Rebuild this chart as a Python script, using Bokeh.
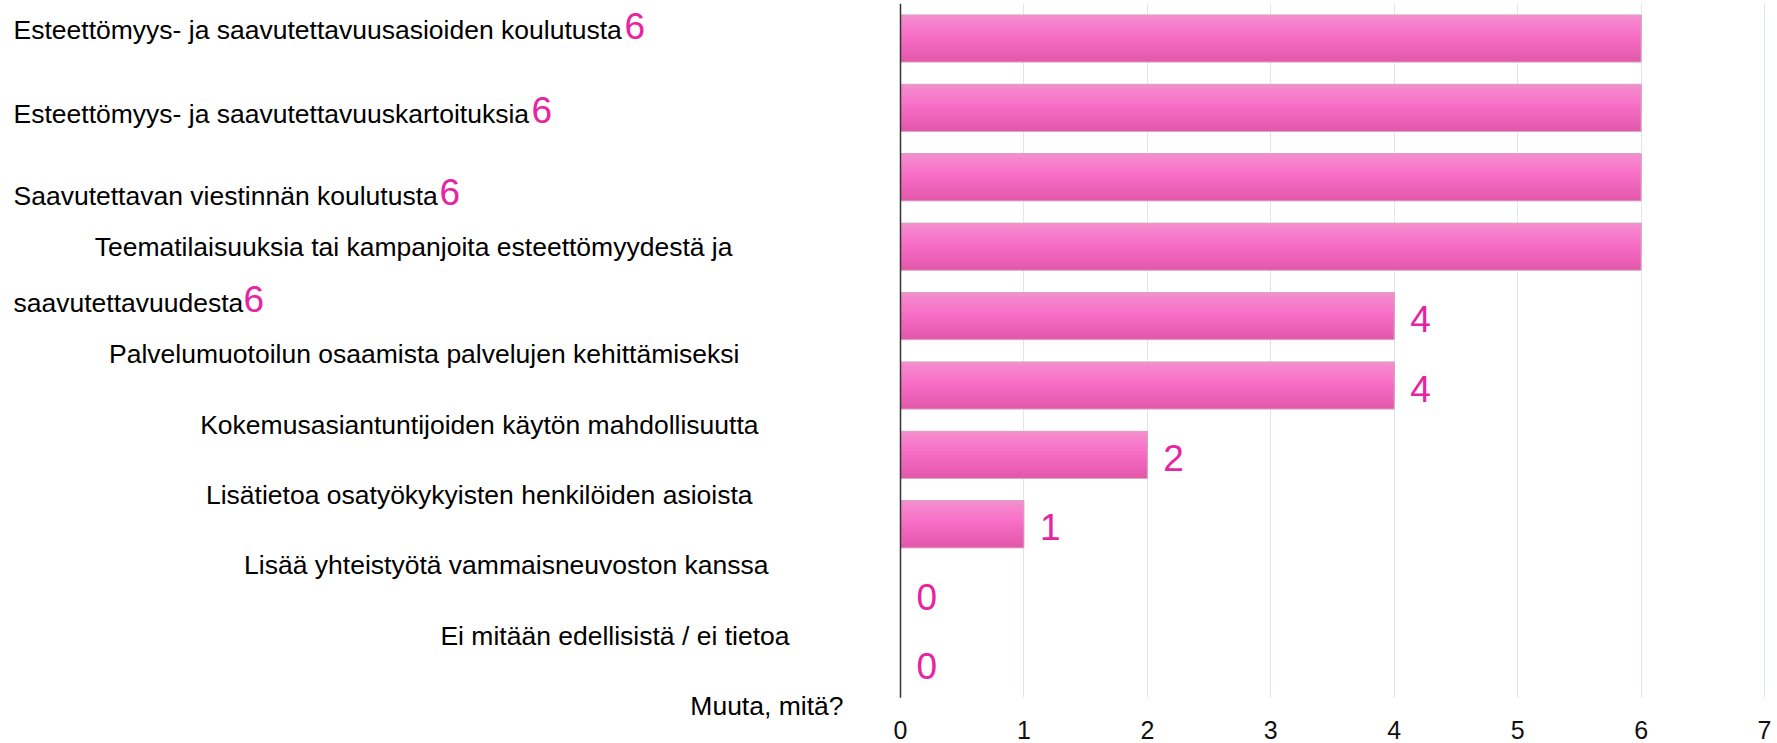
from bokeh.plotting import figure
from bokeh.models import Range1d, FixedTicker, ColumnDataSource, LabelSet
from bokeh.transform import dodge
from bokeh.core.properties import value
from bokeh.embed import file_html
from bokeh.resources import INLINE

# ---------------- data ----------------
categories = [
    "Esteettömyys- ja saavutettavuusasioiden koulutusta",
    "Esteettömyys- ja saavutettavuuskartoituksia",
    "Saavutettavan viestinnän koulutusta",
    "Teematilaisuuksia tai kampanjoita esteettömyydestä ja saavutettavuudesta",
    "Palvelumuotoilun osaamista palvelujen kehittämiseksi",
    "Kokemusasiantuntijoiden käytön mahdollisuutta",
    "Lisätietoa osatyökykyisten henkilöiden asioista",
    "Lisää yhteistyötä vammaisneuvoston kanssa",
    "Ei mitään edellisistä / ei tietoa",
    "Muuta, mitä?",
]
values = [6, 6, 6, 6, 4, 4, 2, 1, 0, 0]
x_ticks = [0, 1, 2, 3, 4, 5, 6, 7]

# ---------------- layout (page pixels) ----------------
W, H = 1777, 743
X0_PX = 900.0        # page x of value 0
UNIT_PX = 123.43     # pixels per unit
ROW_PX = 69.4        # pixels per category row
ROW0_TOP = 3.3       # page y of first row's top edge
TICK_TOP_PX = 720.0  # page y of top of x tick labels
BAR_H = 0.68
VALUE_DX_PX = 16     # gap between bar end and value label
VALUE_DY_PX = 3      # baseline shift of value labels from row centre

def xd(px):
    return (px - X0_PX) / UNIT_PX

def yd(py):
    return (py - ROW0_TOP) / ROW_PX

# label line anchors: (x px, baseline px, align) per line of each category
LABEL_LAYOUT = [
    [(13, 38, "left")],
    [(13, 122, "left")],
    [(13, 204, "left")],
    [(732, 255, "right"), (13, 311, "left")],
    [(739, 362, "right")],
    [(758, 433, "right")],
    [(752, 503, "right")],
    [(768, 573, "right")],
    [(789, 644, "right")],
    [(843, 714, "right")],
]
# rows whose value label sits right after the category text (x px of the digit)
INLINE_VALUE_X = {0: 624, 1: 531, 2: 439, 3: 243}

PINK = "#e8239f"
FONT = "Liberation Sans"

p = figure(width=W, height=H, output_backend="svg", toolbar_location=None,
           x_range=Range1d(xd(0), xd(W)),
           y_range=Range1d(yd(H), yd(0)),
           min_border_left=0, min_border_right=0, min_border_top=0,
           min_border_bottom=0, y_axis_location=None)
p.outline_line_color = None
p.background_fill_color = "white"
p.border_fill_color = "white"

n = len(values)

# x axis placed at a fixed location inside the canvas
p.xaxis.fixed_location = yd(TICK_TOP_PX)
p.xaxis.ticker = FixedTicker(ticks=x_ticks)
p.xaxis.axis_line_color = None
p.xaxis.major_tick_line_color = None
p.xaxis.minor_tick_line_color = None
p.xaxis.major_tick_out = 0
p.xaxis.major_tick_in = 0
p.xaxis.major_label_standoff = 0
p.xaxis.major_label_text_font = FONT
p.xaxis.major_label_text_font_size = "25px"
p.xaxis.major_label_text_color = "#111111"

p.ygrid.visible = False
GRID_COLOR = "#dde5ef"
try:
    p.xgrid.cross_bounds = (0, n)
    p.xgrid.ticker = FixedTicker(ticks=x_ticks)
    p.xgrid.grid_line_color = GRID_COLOR
    p.xgrid.grid_line_width = 1
except Exception:
    p.xgrid.visible = False
    p.segment(x0=x_ticks, x1=x_ticks, y0=0, y1=n, line_color=GRID_COLOR, line_width=1)

src = ColumnDataSource(dict(y=[i + 0.5 for i in range(n)], v=values,
                            t=[str(v) for v in values]))

# gradient bars: stacked top-anchored layers, darkest (full height) first
def lerp(c1, c2, t):
    a = [int(c1[i:i + 2], 16) for i in (1, 3, 5)]
    b = [int(c2[i:i + 2], 16) for i in (1, 3, 5)]
    return "#%02x%02x%02x" % tuple(round(a[j] + (b[j] - a[j]) * t) for j in range(3))

TOP, MID, BOT = "#f58fcf", "#f76ec6", "#e257aa"
N = 12
for k in range(N):
    h = BAR_H * (N - k) / N                 # layer height, from full to small
    pos = (N - k - 0.5) / N                 # position from top (0 top, 1 bottom)
    col = lerp(TOP, MID, pos / 0.45) if pos < 0.45 else lerp(MID, BOT, (pos - 0.45) / 0.55)
    off = -BAR_H / 2 + h / 2
    p.hbar(y=dodge("y", off, range=p.y_range), left=0, right="v",
           height=h, fill_color=col, line_color=None, source=src)
p.hbar(y="y", left=0, right="v", height=BAR_H, fill_alpha=0,
       line_color="#d6a8c4", line_width=1, source=src)

# vertical axis line at 0
p.segment(x0=0, x1=0, y0=0, y1=n, line_color="#333333", line_width=1.5)

# value labels to the right of bars
out_rows = [i for i in range(n) if i not in INLINE_VALUE_X]
out_src = ColumnDataSource(dict(y=[i + 0.5 for i in out_rows],
                                v=[values[i] for i in out_rows],
                                t=[str(values[i]) for i in out_rows]))
p.text(x=dodge("v", VALUE_DX_PX / UNIT_PX, range=p.x_range),
       y=dodge("y", VALUE_DY_PX / ROW_PX, range=p.y_range), text="t",
       text_font=value(FONT), text_font_size="37px", text_color=PINK,
       text_align="left", text_baseline="alphabetic", source=out_src)

# category labels
lx, ly, lt = {"left": [], "right": []}, {"left": [], "right": []}, {"left": [], "right": []}
for i, cat in enumerate(categories):
    lay = LABEL_LAYOUT[i]
    if len(lay) == 1:
        lines = [cat]
    else:
        words = cat.split(" ")
        lines = [" ".join(words[:-1]), words[-1]]
    for line, (px, py, al) in zip(lines, lay):
        lx[al].append(xd(px))
        ly[al].append(yd(py))
        lt[al].append(line)
for al in ("left", "right"):
    ls = ColumnDataSource(dict(x=lx[al], y=ly[al], t=lt[al]))
    p.add_layout(LabelSet(x="x", y="y", text="t", source=ls, text_align=al,
                          text_baseline="alphabetic", text_font=value(FONT),
                          text_font_size="26.5px", text_color="#000000"))

# inline value labels (after category text)
iv_rows = list(INLINE_VALUE_X.keys())
iv_src = ColumnDataSource(dict(
    x=[xd(INLINE_VALUE_X[i]) for i in iv_rows],
    y=[yd(LABEL_LAYOUT[i][-1][1]) for i in iv_rows],
    t=[str(values[i]) for i in iv_rows]))
p.add_layout(LabelSet(x="x", y="y", text="t", source=iv_src, text_align="left",
                      text_baseline="alphabetic", text_font=value(FONT),
                      text_font_size="37px", text_color=PINK))

open("out.html", "w").write(file_html(p, INLINE))
